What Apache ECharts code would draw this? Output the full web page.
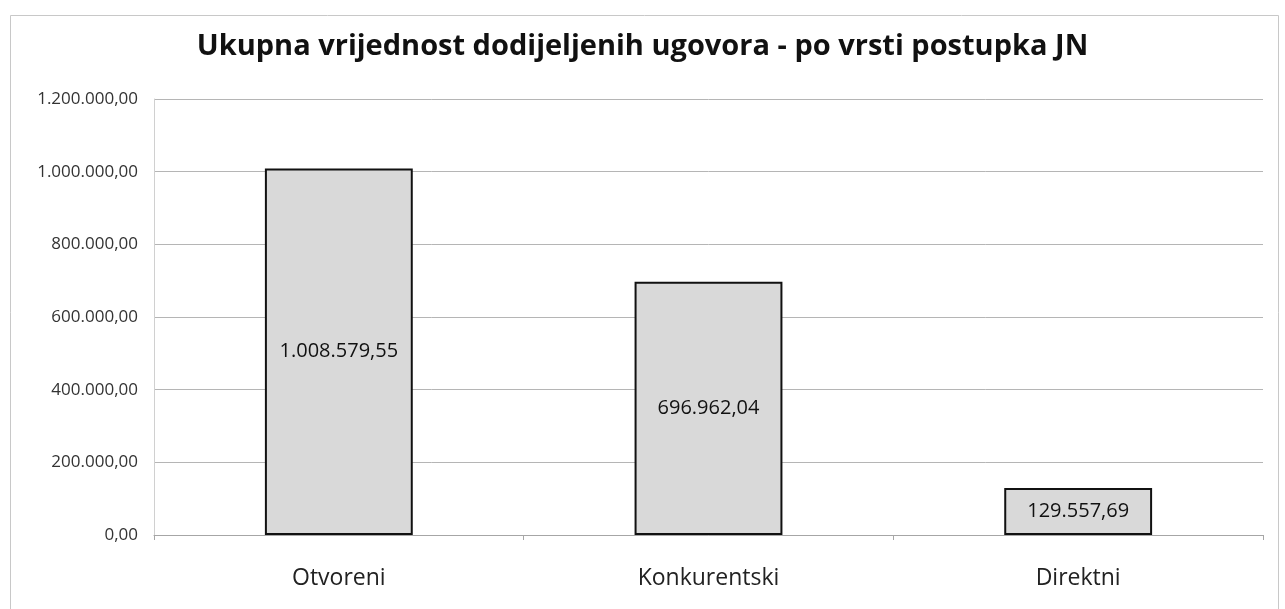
<!DOCTYPE html>
<html>
<head>
<meta charset="utf-8">
<script src="https://cdn.jsdelivr.net/npm/echarts@6/dist/echarts.min.js"></script>
<style>
  html, body { margin: 0; padding: 0; background: #fff; }
  #chart { width: 1285px; height: 609px; }
</style>
</head>
<body>
<div id="chart"></div>
<script>
// podaci
var categories = ['Otvoreni', 'Konkurentski', 'Direktni'];
var values = [1008579.55, 696962.04, 129557.69];
var yTicks = [0, 200000, 400000, 600000, 800000, 1000000, 1200000];

// 1234567.8 -> "1.234.567,80"
function fmt(v) {
    var parts = Number(v).toFixed(2).split('.');
    parts[0] = parts[0].replace(/\B(?=(\d{3})+(?!\d))/g, '.');
    return parts[0] + ',' + parts[1];
}

var myChart = echarts.init(document.getElementById('chart'));
var option = {
    backgroundColor: '#fff',
    animation: false,
    title: {
        text: 'Ukupna vrijednost dodijeljenih ugovora - po vrsti postupka JN',
        left: 'center',
        top: 27,
        textStyle: {
            fontFamily: 'Open Sans',
            fontWeight: 'bold',
            fontSize: 29,
            color: '#111'
        }
    },
    graphic: [{
        type: 'rect',
        shape: { x: 10.5, y: 15.5, width: 1268, height: 600 },
        style: { fill: 'none', stroke: '#c8c8c8', lineWidth: 1 },
        silent: true
    }],
    grid: { left: 154, right: 22, top: 99, bottom: 74 },
    xAxis: {
        type: 'category',
        data: categories,
        axisLine: { lineStyle: { color: '#a6a6a6' } },
        axisTick: { show: true, length: 5, lineStyle: { color: '#a6a6a6' } },
        axisLabel: {
            fontFamily: 'Open Sans',
            fontSize: 23,
            color: '#222',
            margin: 32
        }
    },
    yAxis: {
        type: 'value',
        min: yTicks[0],
        max: yTicks[yTicks.length - 1],
        interval: 200000,
        axisLine: { show: true, lineStyle: { color: '#d0d0d0' } },
        axisTick: { show: false },
        splitLine: { lineStyle: { color: '#b5b5b5', width: 1 } },
        axisLabel: {
            fontFamily: 'Open Sans',
            fontSize: 17,
            color: '#333',
            margin: 16,
            formatter: function (v) { return fmt(v); }
        }
    },
    series: [{
        type: 'bar',
        data: values,
        barWidth: '40%',
        itemStyle: {
            color: '#d9d9d9',
            borderColor: '#111',
            borderWidth: 2
        },
        label: {
            show: true,
            position: 'inside',
            fontFamily: 'Open Sans',
            fontSize: 20,
            color: '#111',
            formatter: function (p) { return fmt(p.value); }
        }
    }]
};
myChart.setOption(option);
</script>
</body>
</html>
